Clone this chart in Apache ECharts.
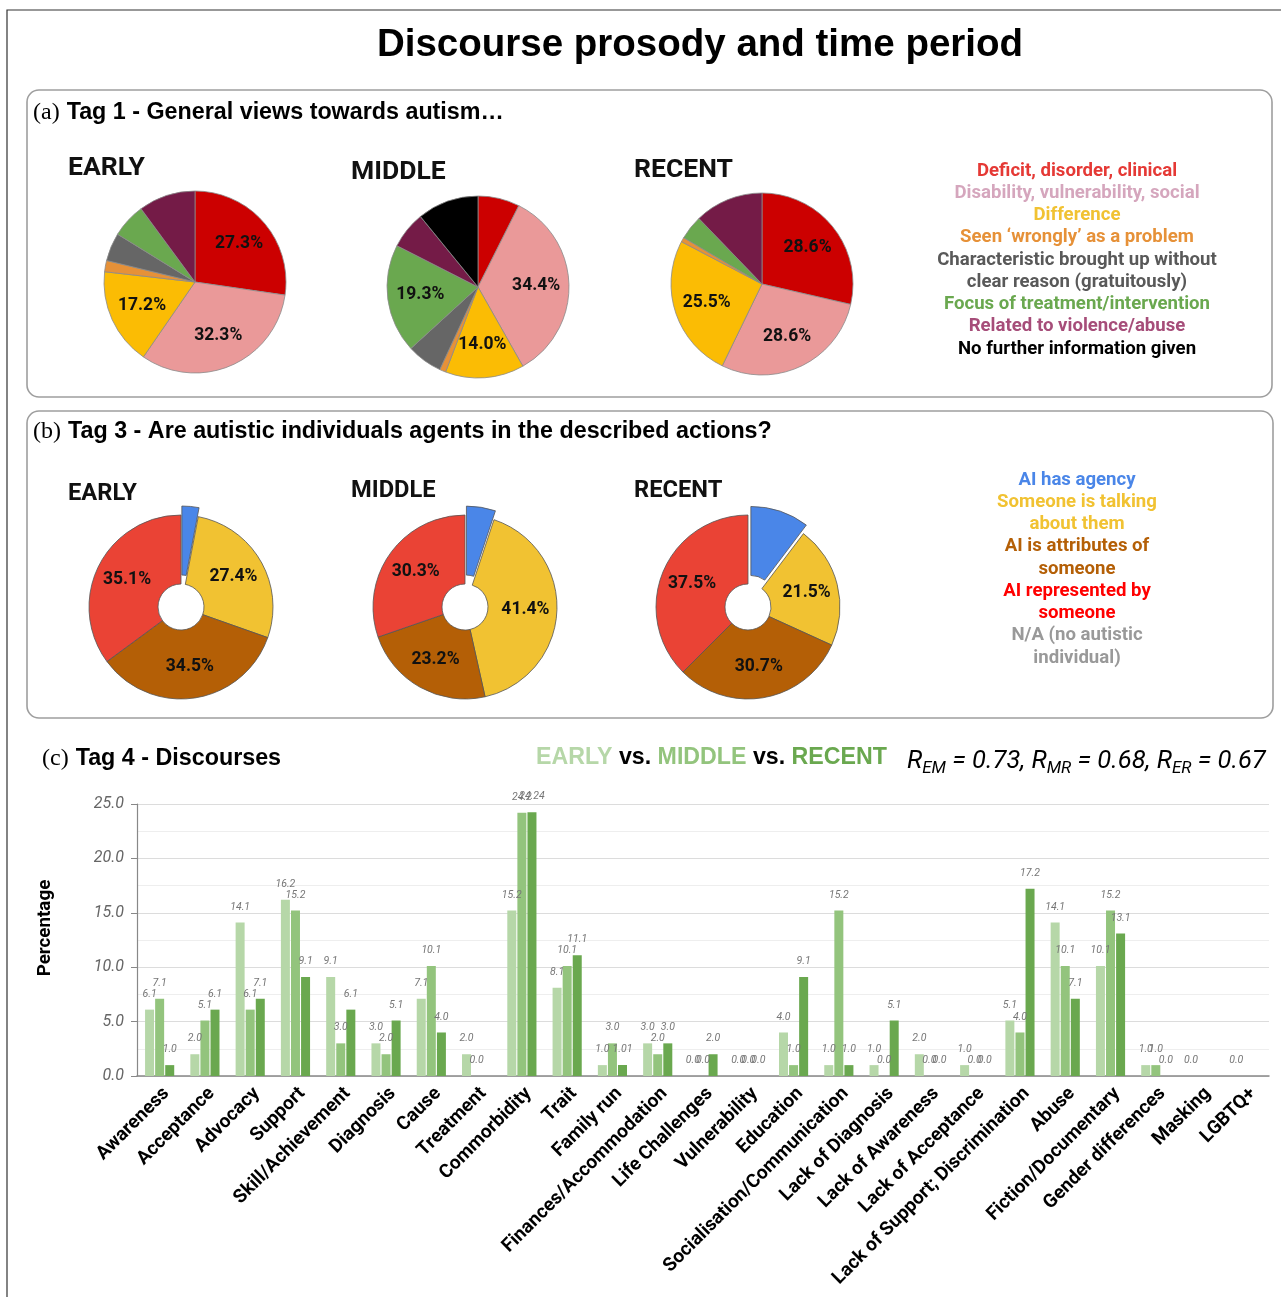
<!DOCTYPE html>
<html>
<head>
<meta charset="utf-8">
<title>Discourse prosody and time period</title>
<script src="https://cdn.jsdelivr.net/npm/echarts@6/dist/echarts.min.js"></script>
<style>
  html, body { margin: 0; padding: 0; background: #ffffff; }
  #chart { width: 1281px; height: 1297px; }
</style>
</head>
<body>
<div id="chart"></div>
<script>
// ---- Tag 1: general views towards autism (percent of items per period) ----
const tag1Labels = [
  'Deficit, disorder, clinical',
  'Disability, vulnerability, social',
  'Difference',
  'Seen \u2018wrongly\u2019 as a problem',
  'Characteristic brought up without clear reason (gratuitously)',
  'Focus of treatment/intervention',
  'Related to violence/abuse',
  'No further information given'
];
const tag1Early  = [27.3, 32.3, 17.2, 2.0, 5.0, 6.1, 10.1, 0];
const tag1Middle = [7.4, 34.4, 14.0, 1.1, 6.3, 19.3, 6.6, 10.9];
const tag1Recent = [28.6, 28.6, 25.5, 0.8, 0, 4.3, 12.2, 0];
const tag1Colors = ['#cc0000', '#ea9999', '#fbbc04', '#e69138', '#666666', '#6aa84f', '#741b47', '#000000'];

// ---- Tag 3: agency of autistic individuals ----
const tag3Labels = ['AI has agency', 'Someone is talking about them', 'AI is attributes of someone', 'AI represented by someone'];
const tag3Early  = [3.0, 27.4, 34.5, 35.1];
const tag3Middle = [5.1, 41.4, 23.2, 30.3];
const tag3Recent = [10.3, 21.5, 30.7, 37.5];
const tag3Colors = ['#4a86e8', '#f1c232', '#b45f06', '#ea4335'];

// ---- Tag 4: discourses ----
const discourses = [
  'Awareness', 'Acceptance', 'Advocacy', 'Support', 'Skill/Achievement', 'Diagnosis',
  'Cause', 'Treatment', 'Commorbidity', 'Trait', 'Family run', 'Finances/Accommodation',
  'Life Challenges', 'Vulnerability', 'Education', 'Socialisation/Communication',
  'Lack of Diagnosis', 'Lack of Awareness', 'Lack of Acceptance',
  'Lack of Support; Discrimination', 'Abuse', 'Fiction/Documentary',
  'Gender differences', 'Masking', 'LGBTQ+'
];
const discEarly  = [6.1, 2.0, 14.1, 16.2, 9.1, 3.0, 7.1, 2.0, 15.2, 8.1, 1.0, 3.0, 0.0, 0.0, 4.0, 1.0, 1.0, 2.0, 1.0, 5.1, 14.1, 10.1, 1.0, 0.0, 0.0];
const discMiddle = [7.1, 5.1, 6.1, 15.2, 3.0, 2.0, 10.1, 0.0, 24.2, 10.1, 3.0, 2.0, 0.0, 0.0, 1.0, 15.2, 0.0, 0.0, 0.0, 4.0, 10.1, 15.2, 1.0, null, null];
const discRecent = [1.0, 6.1, 7.1, 9.1, 6.1, 5.1, 4.0, null, 24.24, 11.1, 1.01, 3.0, 2.0, 0.0, 9.1, 1.0, 5.1, 0.0, 0.0, 17.2, 7.1, 13.1, 0.0, null, null];
const yTicks = [0, 5, 10, 15, 20, 25];

const periodNames = ['EARLY', 'MIDDLE', 'RECENT'];
const barColors = ['#b6d7a8', '#93c47d', '#6aa84f'];

const SANS = 'Roboto, "Liberation Sans", Arial, sans-serif';
const ARIAL = '"Liberation Sans", Arial, sans-serif';
const SERIF = '"Liberation Serif", "Times New Roman", serif';

function pieData(labels, values, colors) {
  const out = [];
  values.forEach((v, i) => {
    if (v > 0) out.push({ name: labels[i], value: v, itemStyle: { color: colors[i] } });
  });
  return out;
}

// push the in-slice percentage labels a little further out from the centre
function outwardLabels(cx, cy, factor) {
  return function (params) {
    const r = params.labelRect;
    const lx = r.x + r.width / 2;
    const ly = r.y + r.height / 2;
    return { dx: (lx - cx) * (factor - 1), dy: (ly - cy) * (factor - 1) };
  };
}

function tag1Pie(values, cx, cy) {
  return {
    type: 'pie',
    center: [cx, cy],
    radius: [0, 91],
    startAngle: 90,
    clockwise: true,
    silent: true,
    animation: false,
    avoidLabelOverlap: false,
    itemStyle: { borderColor: '#8a8a8a', borderWidth: 0.8 },
    label: {
      show: true,
      position: 'inside',
      color: '#111',
      fontFamily: SANS,
      fontWeight: 'bold',
      fontSize: 17.5,
      formatter: p => (p.value >= 13 ? p.value.toFixed(1) + '%' : '')
    },
    labelLayout: outwardLabels(cx, cy, 1.2),
    labelLine: { show: false },
    data: pieData(tag1Labels, values, tag1Colors)
  };
}

function tag3Pie(values, cx, cy) {
  const data = pieData(tag3Labels, values, tag3Colors);
  data[0].selected = true;
  data[0].label = { show: false };
  return {
    type: 'pie',
    center: [cx, cy],
    radius: [23, 92],
    startAngle: 90,
    clockwise: true,
    selectedMode: 'single',
    selectedOffset: 9,
    animation: false,
    avoidLabelOverlap: false,
    emphasis: { disabled: true },
    select: { itemStyle: { color: tag3Colors[0] } },
    itemStyle: { borderColor: '#555', borderWidth: 0.8 },
    label: {
      show: true,
      position: 'inside',
      color: '#111',
      fontFamily: SANS,
      fontWeight: 'bold',
      fontSize: 17.5,
      formatter: p => p.value.toFixed(1) + '%'
    },
    labelLine: { show: false },
    data: data
  };
}

function valueText(v) {
  if (v == null) return '';
  const t = v * 10;
  return Math.abs(t - Math.round(t)) < 1e-6 ? v.toFixed(1) : String(v);
}

function barSeries(name, values, color) {
  return {
    type: 'bar',
    name: name,
    data: values,
    barWidth: 9,
    barGap: '12%',
    animation: false,
    itemStyle: { color: color },
    label: {
      show: true,
      position: 'top',
      distance: 10,
      color: '#777',
      fontStyle: 'italic',
      fontFamily: SANS,
      fontSize: 10.5,
      formatter: p => valueText(p.value)
    }
  };
}

// text helper for the graphic layer
function txt(x, y, text, fill, size, opts) {
  return Object.assign({
    type: 'text',
    x: x, y: y,
    style: Object.assign({
      text: text,
      fill: fill,
      font: 'bold ' + size + 'px ' + SANS,
      textAlign: 'center',
      textVerticalAlign: 'middle'
    }, (opts && opts.style) || {})
  }, (opts && opts.el) || {});
}

function heading(x, y, tag, text) {
  return {
    type: 'text', x: x, y: y,
    style: {
      text: '{s|' + tag + '}{b|' + text + '}',
      textVerticalAlign: 'middle',
      rich: {
        s: { font: '24px ' + SERIF, fill: '#000', padding: [0, 7, 0, 0] },
        b: { font: 'bold 23.3px ' + ARIAL, fill: '#000' }
      }
    }
  };
}

const legend1 = [
  ['Deficit, disorder, clinical', '#e53935'],
  ['Disability, vulnerability, social', '#d5a6bd'],
  ['Difference', '#f1c232'],
  ['Seen \u2018wrongly\u2019 as a problem', '#e69138'],
  ['Characteristic brought up without', '#595959'],
  ['clear reason (gratuitously)', '#595959'],
  ['Focus of treatment/intervention', '#6aa84f'],
  ['Related to violence/abuse', '#a64d79'],
  ['No further information given', '#000000']
];
const legend3 = [
  ['AI has agency', '#4a86e8'],
  ['Someone is talking', '#f1c232'],
  ['about them', '#f1c232'],
  ['AI is attributes of', '#b45f06'],
  ['someone', '#b45f06'],
  ['AI represented by', '#ff0000'],
  ['someone', '#ff0000'],
  ['N/A (no autistic', '#999999'],
  ['individual)', '#999999']
];

const graphics = [
  // outer frame
  { type: 'rect', shape: { x: 7, y: 10, width: 1290, height: 1300 }, style: { fill: 'none', stroke: '#333', lineWidth: 1.2 }, silent: true },
  // panel frames
  { type: 'rect', shape: { x: 27, y: 90, width: 1245, height: 307, r: 12 }, style: { fill: 'none', stroke: '#9e9e9e', lineWidth: 1.6 }, silent: true },
  { type: 'rect', shape: { x: 27, y: 411, width: 1246, height: 307, r: 12 }, style: { fill: 'none', stroke: '#9e9e9e', lineWidth: 1.6 }, silent: true },
  // main title
  txt(700, 45, 'Discourse prosody and time period', '#000', 38.5, { style: { font: 'bold 38.5px ' + ARIAL } }),
  // panel headings
  heading(33, 113, '(a)', 'Tag 1 - General views towards autism\u2026'),
  heading(33, 432, '(b)', 'Tag 3 - Are autistic individuals agents in the described actions?'),
  heading(42, 759, '(c)', 'Tag 4 - Discourses'),
  {
    type: 'text', x: 536, y: 758,
    style: {
      text: '{e|EARLY}{v| vs. }{m|MIDDLE}{v| vs. }{r|RECENT}',
      textVerticalAlign: 'middle',
      rich: {
        e: { font: 'bold 23.2px ' + ARIAL, fill: barColors[0] },
        m: { font: 'bold 23.2px ' + ARIAL, fill: barColors[1] },
        r: { font: 'bold 23.2px ' + ARIAL, fill: barColors[2] },
        v: { font: 'bold 23.2px ' + ARIAL, fill: '#000' }
      }
    }
  },
  {
    type: 'text', x: 907, y: 762,
    style: {
      text: '{t|R}{u|EM}{t| = 0.73, R}{u|MR}{t| = 0.68, R}{u|ER}{t| = 0.67}',
      textVerticalAlign: 'middle',
      rich: {
        t: { font: 'italic 25.5px ' + SANS, fill: '#000', lineHeight: 30, verticalAlign: 'middle' },
        u: { font: 'italic 17px ' + SANS, fill: '#000', lineHeight: 10, verticalAlign: 'bottom' }
      }
    }
  },
  // y axis title
  {
    type: 'text', x: 45, y: 928, rotation: Math.PI / 2,
    style: {
      text: 'Percentage', fill: '#000',
      font: 'bold 18.8px ' + SANS,
      textAlign: 'center', textVerticalAlign: 'middle'
    }
  },
  // period labels
  txt(68, 168, 'EARLY', '#111', 26.5, { style: { textAlign: 'left' } }),
  txt(351, 172, 'MIDDLE', '#111', 26.5, { style: { textAlign: 'left' } }),
  txt(634, 170, 'RECENT', '#111', 26.5, { style: { textAlign: 'left' } }),
  txt(68, 494, 'EARLY', '#111', 23.7, { style: { textAlign: 'left' } }),
  txt(351, 491, 'MIDDLE', '#111', 23.7, { style: { textAlign: 'left' } }),
  txt(634, 491, 'RECENT', '#111', 23.7, { style: { textAlign: 'left' } })
];

legend1.forEach((row, i) => {
  graphics.push(txt(1077, 171 + i * 22.25, row[0], row[1], 18.6));
});
legend3.forEach((row, i) => {
  graphics.push(txt(1077, 480 + i * 22.25, row[0], row[1], 18.6));
});

const chart = echarts.init(document.getElementById('chart'), null, { renderer: 'canvas' });
chart.setOption({
  backgroundColor: '#ffffff',
  animation: false,
  textStyle: { fontFamily: SANS },
  grid: { left: 137, right: 12, top: 804, bottom: 221, containLabel: false },
  xAxis: {
    type: 'category',
    data: discourses,
    axisLine: { show: true, lineStyle: { color: '#888', width: 1.5 } },
    axisTick: { show: false },
    axisLabel: {
      interval: 0,
      rotate: 45,
      margin: 8,
      verticalAlign: 'top',
      color: '#000',
      fontFamily: SANS,
      fontWeight: 'bold',
      fontSize: 19
    }
  },
  yAxis: {
    type: 'value',
    min: yTicks[0],
    max: yTicks[yTicks.length - 1],
    interval: 5,
    axisLine: { show: true, lineStyle: { color: '#888', width: 1.2 } },
    axisTick: { show: true, length: 6, lineStyle: { color: '#888' } },
    axisLabel: {
      color: '#666',
      fontStyle: 'italic',
      fontFamily: SANS,
      fontSize: 16,
      margin: 13,
      formatter: v => v.toFixed(1)
    },
    splitLine: { show: true, lineStyle: { color: '#dcdcdc', width: 1 } },
    minorTick: { show: false, splitNumber: 2 },
    minorSplitLine: { show: true, lineStyle: { color: '#eeeeee', width: 1 } }
  },
  graphic: graphics,
  series: [
    tag1Pie(tag1Early, 195, 282),
    tag1Pie(tag1Middle, 478, 287),
    tag1Pie(tag1Recent, 762, 284),
    tag3Pie(tag3Early, 181, 607),
    tag3Pie(tag3Middle, 465, 607),
    tag3Pie(tag3Recent, 748, 607),
    barSeries(periodNames[0], discEarly, barColors[0]),
    barSeries(periodNames[1], discMiddle, barColors[1]),
    barSeries(periodNames[2], discRecent, barColors[2])
  ]
});
</script>
</body>
</html>
